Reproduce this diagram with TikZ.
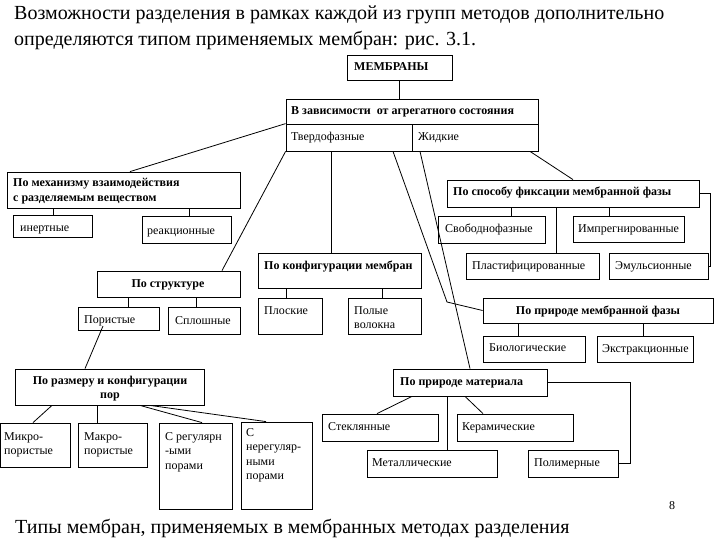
\documentclass[tikz,border=0pt]{standalone}
\usepackage{fontspec}
\setmainfont{Liberation Serif}
\usetikzlibrary{fit,calc}
\newcommand\bxx[5]{\node[box, fit={(#2,#3) (#4,#5)}] (#1) {};}
\begin{document}
\begin{tikzpicture}[x=1pt,y=-1pt,
  box/.style={draw, line width=0.8pt, inner sep=0pt},
  conn/.style={draw, line width=0.8pt},
  lb/.style={font=\fontsize{12}{14.5}\selectfont, inner sep=0pt, align=left, anchor=base west},
  lbb/.style={lb, font=\fontsize{12}{14.5}\selectfont\bfseries},
  lbc/.style={lbb, align=center, anchor=base},
  big/.style={font=\fontsize{20}{26}\selectfont, inner sep=0pt, anchor=base west}]
\useasboundingbox (0,0) rectangle (720,540);

% title and caption
\node[big] (title1) at (14,20) {Возможности разделения в рамках каждой из групп методов дополнительно};
\node[big] (title2) at (14,46) {определяются типом применяемых мембран: рис. 3.1.};
\node[big] (caption) at (15,533) {Типы мембран, применяемых в мембранных методах разделения};
\node[lb] (pagenum) at (669,509) {8};

% boxes
\bxx{memb}{347}{55}{452}{80}
\bxx{zav}{286}{99}{538}{124}
\bxx{tverd}{286}{124}{412}{151}
\bxx{zhid}{412}{124}{538}{151}
\bxx{mech}{7}{172}{240}{208}
\bxx{inert}{13}{215}{92}{237}
\bxx{reak}{142}{216}{231}{243}
\bxx{sposob}{447}{180}{699}{207}
\bxx{svob}{438}{216}{545}{243}
\bxx{impr}{573}{216}{684}{242}
\bxx{plast}{466}{253}{599}{279}
\bxx{emul}{609}{253}{708}{279}
\bxx{konf}{258}{253}{421}{288}
\bxx{plosk}{258}{298}{322}{334}
\bxx{poly}{348}{298}{421}{334}
\bxx{strukt}{97}{271}{240}{297}
\bxx{porist}{78}{307}{159}{330}
\bxx{splosh}{168}{307}{240}{334}
\bxx{prirfaz}{483}{298}{713}{323}
\bxx{biol}{483}{336}{585}{362}
\bxx{ekstr}{597}{336}{693}{362}
\bxx{razmer}{15}{369}{204}{405}
\bxx{mikro}{0}{423}{70}{467}
\bxx{makro}{78}{423}{147}{467}
\bxx{regul}{159}{423}{232}{509}
\bxx{nereg}{241}{422}{312}{509}
\bxx{prirmat}{393}{369}{547}{396}
\bxx{stekl}{322}{414}{438}{441}
\bxx{keram}{457}{414}{573}{441}
\bxx{metal}{367}{450}{497}{477}
\bxx{polim}{528}{450}{618}{477}

% texts (multi-line nodes are placed by the baseline of their last line)
\node[lbb] (membT) at (354,71) {МЕМБРАНЫ};
\node[lbb] (zavT) at (291,115) {В зависимости\ \ от агрегатного состояния};
\node[lb] (tverdT) at (291,141) {Твердофазные};
\node[lb] (zhidT) at (418,141) {Жидкие};
\node[lbb] (mechT) at (13,201.5) {По механизму взаимодействия\\с разделяемым веществом};
\node[lb] (inertT) at (20,231) {инертные};
\node[lb] (reakT) at (147,234) {реакционные};
\node[lbb] (sposobT) at (453,196) {По способу фиксации мембранной фазы};
\node[lb] (svobT) at (445,233) {Свободнофазные};
\node[lb] (imprT) at (578,233) {Импрегнированные};
\node[lbb] (konfT) at (264,269) {По конфигурации мембран};
\node[lb] (plastT) at (472,269) {Пластифицированные};
\node[lb] (emulT) at (615,269) {Эмульсионные};
\node[lbc] (struktT) at (168,287) {По структуре};
\node[lb] (poristT) at (84,323) {Пористые};
\node[lb] (sploshT) at (175,324) {Сплошные};
\node[lb] (ploskT) at (264,314) {Плоские};
\node[lb] (polyT) at (354,328.5) {Полые\\волокна};
\node[lbc] (prirfazT) at (598,314) {По природе мембранной фазы};
\node[lb] (biolT) at (489,351) {Биологические};
\node[lb] (ekstrT) at (602,352) {Экстракционные};
\node[lbc] (razmerT) at (110,398.5) {По размеру и конфигурации\\пор};
\node[lbb] (prirmatT) at (400,385) {По природе материала};
\node[lb] (steklT) at (328,430) {Стеклянные};
\node[lb] (keramT) at (462,430) {Керамические};
\node[lb] (metalT) at (372,466) {Металлические};
\node[lb] (polimT) at (534,466) {Полимерные};
\node[lb] (mikroT) at (4,454.5) {Микро-\\пористые};
\node[lb] (makroT) at (84,454.5) {Макро-\\пористые};
\node[lb] (regulT) at (165,469) {С регулярн\\-ыми\\порами};
\node[lb] (neregT) at (246,479.5) {С\\нерегуляр-\\ными\\порами};

% connectors
\coordinate (bend1) at (447,302);
\coordinate (porstart) at (103,326);
\draw[conn] (memb.south) -- (memb.south |- zav.north);
\draw[conn] (tverd.north west) -- (130,0 |- mech.north);
\draw[conn] (tverd.south west) -- (222,0 |- strukt.north);
\draw[conn] (331,0 |- tverd.south) -- (331,0 |- konf.north);
\draw[conn] (393,0 |- tverd.south) -- (bend1) -- (prirfaz.west);
\draw[conn] (420,0 |- zhid.south) -- (470,0 |- prirmat.north);
\draw[conn] (530,0 |- zhid.south) -- (573,0 |- sposob.north);
% mech
\draw[conn] (53,0 |- mech.south) -- (53,0 |- inert.north);
\draw[conn] (189,0 |- mech.south) -- (189,0 |- reak.north);
% sposob
\draw[conn] (511,0 |- sposob.south) -- (511,0 |- svob.north);
\draw[conn] (609,0 |- sposob.south) -- (609,0 |- impr.north);
\draw[conn] (556,0 |- sposob.south) -- (556,0 |- plast.north);
\draw[conn] (sposob.east) -- (710,0 |- sposob.east) -- (710,0 |- emul.east) -- (emul.east);
% konf
\draw[conn] (286,0 |- konf.south) -- (286,0 |- plosk.north);
\draw[conn] (382,0 |- konf.south) -- (382,0 |- poly.north);
% strukt
\draw[conn] (128,0 |- strukt.south) -- (128,0 |- porist.north);
\draw[conn] (196,0 |- strukt.south) -- (196,0 |- splosh.north);
\draw[conn] (porstart) -- (85,0 |- razmer.north);
% razmer
\draw[conn] (52,0 |- razmer.south) -- (33,0 |- mikro.north);
\draw[conn] (97,0 |- razmer.south) -- (97,0 |- makro.north);
\draw[conn] (140,0 |- razmer.south) -- (202,0 |- regul.north);
\draw[conn] (150,0 |- razmer.south) -- (266,0 |- nereg.north);
% prirfaz
\draw[conn] (518,0 |- prirfaz.south) -- (518,0 |- biol.north);
\draw[conn] (643,0 |- prirfaz.south) -- (643,0 |- ekstr.north);
% prirmat
\draw[conn] (412,0 |- prirmat.south) -- (377,0 |- stekl.north);
\draw[conn] (447,0 |- prirmat.south) -- (447,0 |- metal.north);
\draw[conn] (465,0 |- prirmat.south) -- (483,0 |- keram.north);
\draw[conn] (prirmat.east) -- (630,0 |- prirmat.east) -- (630,0 |- polim.east) -- (polim.east);
\end{tikzpicture}
\end{document}
